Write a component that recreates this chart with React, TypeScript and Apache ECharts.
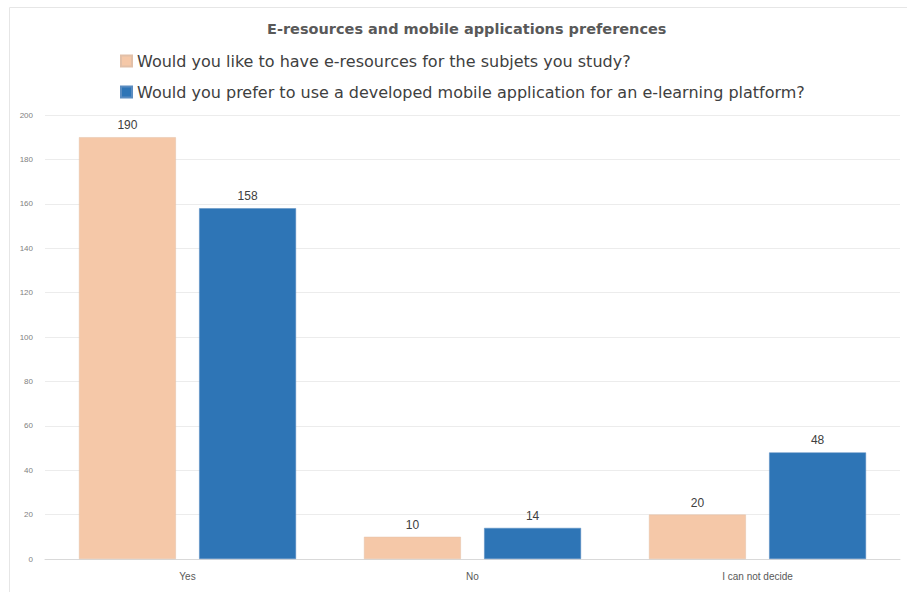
import React, { useEffect, useRef } from "react";
import * as echarts from "echarts";

const categories = ["Yes", "No", "I can not decide"];
const seriesNames = [
  "Would you like to have e-resources for the subjets you study?",
  "Would you prefer to use a developed mobile application for an e-learning platform?",
];
const eResources = [190, 10, 20];
const mobileApp = [158, 14, 48];
const chartTitle = "E-resources and mobile applications preferences";

export default function App() {
  const ref = useRef<HTMLDivElement>(null);
  useEffect(() => {
    if (!ref.current) return;
    const chart = echarts.init(ref.current, undefined, { renderer: "svg" });
    const font = "Liberation Sans";
    const wide = "DejaVu Sans";
    chart.setOption({
      animation: false,
      backgroundColor: "#ffffff",
      title: {
        text: chartTitle,
        left: 262,
        top: 16,
        textStyle: { fontFamily: wide, fontSize: 14.5, fontWeight: "bold", color: "#595959" },
      },
      legend: {
        orient: "vertical",
        left: 115,
        top: 48,
        itemWidth: 11,
        itemHeight: 11,
        itemGap: 15,
        icon: "rect",
        textStyle: { fontFamily: wide, fontSize: 16, color: "#404040" },
        data: seriesNames,
      },
      grid: { left: 45, right: 7, top: 115, bottom: 33, containLabel: false },
      xAxis: {
        type: "category",
        data: categories,
        axisLine: { lineStyle: { color: "#d9d9d9" } },
        axisTick: { show: false },
        axisLabel: { fontFamily: font, fontSize: 10, color: "#595959", margin: 12 },
      },
      yAxis: {
        type: "value",
        min: 0,
        max: 200,
        interval: 20,
        axisLine: { show: false },
        axisTick: { show: false },
        splitLine: { lineStyle: { color: "#ececec" } },
        axisLabel: { fontFamily: font, fontSize: 8, color: "#7f7f7f", margin: 12 },
      },
      series: [
        {
          name: seriesNames[0],
          type: "bar",
          data: eResources,
          barWidth: "34%",
          barGap: "24%",
          itemStyle: { color: "#F5C8A8", borderColor: "#e2c0a8", borderWidth: 0.5 },
          label: { show: true, position: "top", fontFamily: font, fontSize: 12, color: "#404040", distance: 6 },
        },
        {
          name: seriesNames[1],
          type: "bar",
          data: mobileApp,
          barWidth: "34%",
          itemStyle: { color: "#2E75B6", borderColor: "#5a8cc0", borderWidth: 0.5 },
          label: { show: true, position: "top", fontFamily: font, fontSize: 12, color: "#404040", distance: 6 },
        },
      ],
      graphic: [
        {
          type: "rect",
          shape: { x: 9.5, y: 7.5, width: 900, height: 590 },
          style: { fill: "none", stroke: "#e6e6e6", lineWidth: 1 },
          silent: true,
        },
      ],
    });
    return () => chart.dispose();
  }, []);
  return <div ref={ref} style={{ width: 907, height: 592, position: "absolute", left: 0, top: 0 }} />;
}
